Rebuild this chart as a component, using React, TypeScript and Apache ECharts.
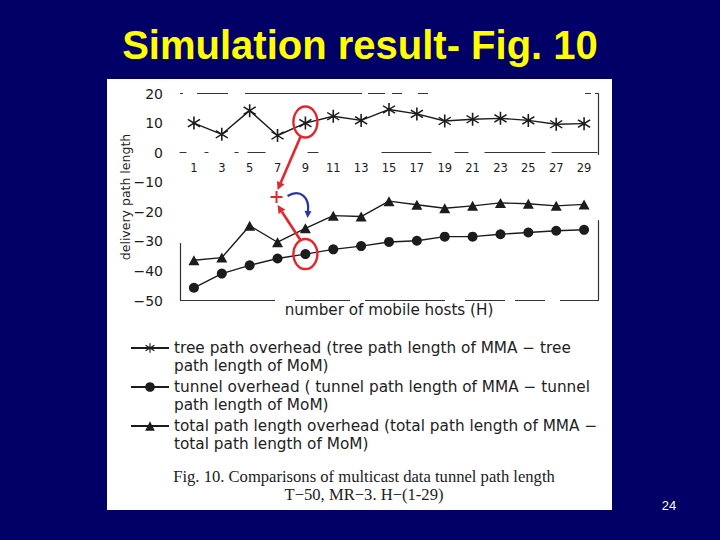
import { useEffect, useRef } from 'react';
import * as echarts from 'echarts';

// number of mobile hosts (H)
const hosts = ['1', '3', '5', '7', '9', '11', '13', '15', '17', '19', '21', '23', '25', '27', '29'];

// delivery path length overheads
const treeOverhead = [10, 6.2, 14.2, 5.8, 10, 12.3, 10.9, 14.6, 13.1, 10.7, 11.3, 11.6, 10.9, 9.6, 9.8];
const tunnelOverhead = [-45.7, -40.9, -38.1, -35.8, -34.3, -32.7, -31.6, -30.2, -29.8, -28.4, -28.4, -27.6, -27, -26.4, -26.1];
const totalOverhead = [-36.4, -35.5, -24.7, -30.3, -25.6, -21.3, -21.6, -16.4, -17.6, -18.8, -18, -17, -17.3, -18, -17.5];

const yMin = -50;
const yMax = 20;
const yStep = 10;

const seriesNames = ['tree path overhead', 'tunnel overhead', 'total path length overhead'];
const legendLines = [
  ['tree path overhead (tree path length of MMA \u2212 tree', 'path length of MoM)'],
  ['tunnel overhead ( tunnel path length of MMA \u2212 tunnel', 'path length of MoM)'],
  ['total path length overhead (total path length of MMA \u2212', 'total path length of MoM)'],
];
const caption = ['Fig. 10. Comparisons of multicast data tunnel path length', 'T\u221250, MR\u22123. H\u2212(1-29)'];

// the circled point (H = 9) and the "+" marker between the curves
const markedIndex = 4;
const plusIndex = 3;
const plusValue = -15;

const INK = '#1c1c1c';
const RED = '#e3262b';
const BLUE = '#2b36a6';
const SANS = 'DejaVu Sans';

// six-armed asterisk as a path symbol
function asteriskPath() {
  const c = 12;
  const w = 1.3;
  let d = '';
  for (const deg of [90, 35, 145]) {
    const a = (deg * Math.PI) / 180;
    const dx = 12 * Math.cos(a);
    const dy = 12 * Math.sin(a);
    const nx = -Math.sin(a) * w;
    const ny = Math.cos(a) * w;
    const p = [
      [c + dx + nx, c + dy + ny],
      [c + dx - nx, c + dy - ny],
      [c - dx - nx, c - dy - ny],
      [c - dx + nx, c - dy + ny],
    ];
    d += 'M' + p.map((q) => q[0].toFixed(2) + ' ' + q[1].toFixed(2)).join('L') + 'Z';
  }
  return 'path://' + d;
}

function arrowHead(tx: number, ty: number, fx: number, fy: number, len: number, half: number) {
  const l = Math.hypot(tx - fx, ty - fy) || 1;
  const ux = (tx - fx) / l;
  const uy = (ty - fy) / l;
  const bx = tx - ux * len;
  const by = ty - uy * len;
  return {
    base: [bx, by],
    points: [
      [tx, ty],
      [bx - uy * half, by + ux * half],
      [bx + uy * half, by - ux * half],
    ],
  };
}

export default function App() {
  const ref = useRef<HTMLDivElement>(null);

  useEffect(() => {
    if (!ref.current) return;
    const chart = echarts.init(ref.current, undefined, { renderer: 'svg' });

    const gridTop = 93.5;
    const gridBottom = 239.5;
    const gridHeight = 540 - gridTop - gridBottom;
    // lift the category axis (line + labels) from the grid bottom to y = 0
    const zeroLift = -(gridHeight * (0 - yMin)) / (yMax - yMin);

    const lineStyle = { color: INK, width: 1.4 };
    const legendL = 17.5;
    const legendIconY = [348, 387, 426];

    chart.setOption({
      animation: false,
      backgroundColor: '#000066',
      grid: { left: 180, right: 122, top: gridTop, bottom: gridBottom },
      xAxis: {
        type: 'category',
        data: hosts,
        boundaryGap: true,
        position: 'bottom',
        offset: zeroLift,
        axisTick: { show: false },
        axisLine: { onZero: false, lineStyle: { color: '#333', width: 1.2, type: [6, 19, 3, 27, 3, 10, 17, 43, 10, 64, 49, 24, 13, 17, 60, 7, 45] } },
        axisLabel: { color: INK, fontFamily: SANS, fontSize: 11.5, margin: 9 },
      },
      yAxis: [
        {
          type: 'value',
          min: yMin,
          max: yMax,
          interval: yStep,
          name: 'delivery path length',
          nameLocation: 'middle',
          nameGap: 48,
          nameMoveOverlap: false,
          nameTextStyle: { color: INK, fontFamily: SANS, fontSize: 12.5 },
          splitLine: { show: false },
          axisTick: { show: false },
          axisLine: { show: true, lineStyle: { color: '#333', width: 1.2, type: [57, 400] } },
          axisLabel: {
            color: INK,
            fontFamily: SANS,
            fontSize: 14,
            margin: 17,
            formatter: (v: number) => String(v).replace('-', '\u2212'),
          },
        },
        {
          type: 'value',
          position: 'right',
          min: yMin,
          max: yMax,
          interval: yStep,
          splitLine: { show: false },
          axisTick: { show: false },
          axisLabel: { show: false },
          axisLine: { show: true, lineStyle: { color: '#333', width: 1.2, type: [80, 66, 64, 20] } },
        },
      ],
      legend: seriesNames.map((name, i) => ({
        data: [name],
        orient: 'vertical',
        left: 125,
        top: legendIconY[i] - 1.5 * legendL - 5,
        itemWidth: 38,
        itemHeight: 12,
        itemGap: 0,
        selectedMode: false,
        // an empty first line keeps the icon level with the first text line
        formatter: () => '\n' + legendLines[i].join('\n'),
        textStyle: {
          color: '#222',
          fontFamily: SANS,
          fontSize: 15.3,
          lineHeight: legendL,
        },
      })),
      series: [
        {
          name: seriesNames[0],
          type: 'line',
          data: treeOverhead,
          symbol: asteriskPath(),
          symbolSize: 13,
          itemStyle: { color: INK },
          lineStyle,
          markLine: {
            silent: true,
            symbol: 'none',
            label: { show: false },
            data: [
              { yAxis: yMax, lineStyle: { color: '#333', width: 1.2, type: [3, 14, 31, 17, 117, 6, 17, 7, 10, 16, 10, 157, 6, 4] } },
              { yAxis: yMin, lineStyle: { color: '#333', width: 1.2, type: [95, 20, 55, 15, 80, 20, 40, 10, 30, 15, 40, 18] } },
            ],
          },
        },
        {
          name: seriesNames[1],
          type: 'line',
          data: tunnelOverhead,
          symbol: 'circle',
          symbolSize: 10,
          itemStyle: { color: INK },
          lineStyle,
        },
        {
          name: seriesNames[2],
          type: 'line',
          data: totalOverhead,
          symbol: 'triangle',
          symbolSize: [11, 10],
          itemStyle: { color: INK },
          lineStyle,
        },
      ],
    });

    const pt = (i: number, v: number) => chart.convertToPixel({ gridIndex: 0 }, [i, v]) as number[];
    const c1 = pt(markedIndex, treeOverhead[markedIndex]);
    const c2 = pt(markedIndex, tunnelOverhead[markedIndex]);
    const p = pt(plusIndex, plusValue);
    p[0] -= 1;

    const redArrow = (id: string, sx: number, sy: number, tx: number, ty: number) => {
      const h = arrowHead(tx, ty, sx, sy, 8, 4);
      return [
        { type: 'line', id: id + 'l', z: 10, shape: { x1: sx, y1: sy, x2: h.base[0], y2: h.base[1] }, style: { stroke: RED, lineWidth: 2.6 } },
        { type: 'polygon', id: id + 'h', z: 10, shape: { points: h.points }, style: { fill: RED } },
      ];
    };

    const blueStart = [p[0] + 11, p[1] - 1];
    const blueCp1 = [p[0] + 24, p[1] - 9];
    const blueCp2 = [p[0] + 33, p[1] + 1];
    const blueTip = [p[0] + 31, p[1] + 21];
    const blueHead = arrowHead(blueTip[0], blueTip[1], blueCp2[0] - 1, blueCp2[1] + 6, 7, 3.5);

    const text = (id: string, x: number, y: number, t: string, font: string, fill: string) => ({
      type: 'text',
      id,
      x,
      y,
      z: 5,
      style: {
        text: t,
        font,
        fill,
        align: 'center',
        verticalAlign: 'middle',
        textAlign: 'center',
        textVerticalAlign: 'middle',
      },
    });

    chart.setOption({
      graphic: [
        { type: 'rect', id: 'panel', z: -1, shape: { x: 107, y: 79, width: 505, height: 431 }, style: { fill: '#ffffff' } },
        text('title', 360, 45, 'Simulation result- Fig. 10', 'bold 40px "Liberation Sans", Arial, sans-serif', '#ffff00'),
        text('xname', 389, 310, 'number of mobile hosts (H)', '15.2px "DejaVu Sans"', INK),
        text('cap1', 364, 476, caption[0], '16.6px "Liberation Serif", serif', '#222'),
        text('cap2', 364, 494, caption[1], '16.6px "Liberation Serif", serif', '#222'),
        text('page', 669, 505, '24', '13px "Liberation Sans", Arial, sans-serif', '#ffffd8'),
        { type: 'ellipse', id: 'e1', z: 10, shape: { cx: c1[0], cy: c1[1] - 1, rx: 12, ry: 15.5 }, style: { fill: 'none', stroke: RED, lineWidth: 2.4 } },
        { type: 'ellipse', id: 'e2', z: 10, shape: { cx: c2[0], cy: c2[1], rx: 12, ry: 15 }, style: { fill: 'none', stroke: RED, lineWidth: 2.4 } },
        ...redArrow('a1', c1[0] - 5, c1[1] + 14, p[0] + 1, p[1] - 7),
        ...redArrow('a2', c2[0] - 5, c2[1] - 14, p[0] + 1, p[1] + 8),
        { type: 'line', id: 'ph', z: 10, shape: { x1: p[0] - 6, y1: p[1], x2: p[0] + 6, y2: p[1] }, style: { stroke: RED, lineWidth: 2 } },
        { type: 'line', id: 'pv', z: 10, shape: { x1: p[0], y1: p[1] - 6, x2: p[0], y2: p[1] + 6 }, style: { stroke: RED, lineWidth: 2 } },
        {
          type: 'bezierCurve',
          id: 'bc',
          z: 10,
          shape: {
            x1: blueStart[0],
            y1: blueStart[1],
            cpx1: blueCp1[0],
            cpy1: blueCp1[1],
            cpx2: blueCp2[0],
            cpy2: blueCp2[1],
            x2: blueHead.base[0],
            y2: blueHead.base[1],
          },
          style: { fill: 'none', stroke: BLUE, lineWidth: 2.2 },
        },
        { type: 'polygon', id: 'bh', z: 10, shape: { points: blueHead.points }, style: { fill: BLUE } },
      ],
    });

    return () => {
      chart.dispose();
    };
  }, []);

  return <div ref={ref} style={{ position: 'fixed', left: 0, top: 0, width: 720, height: 540 }} />;
}
